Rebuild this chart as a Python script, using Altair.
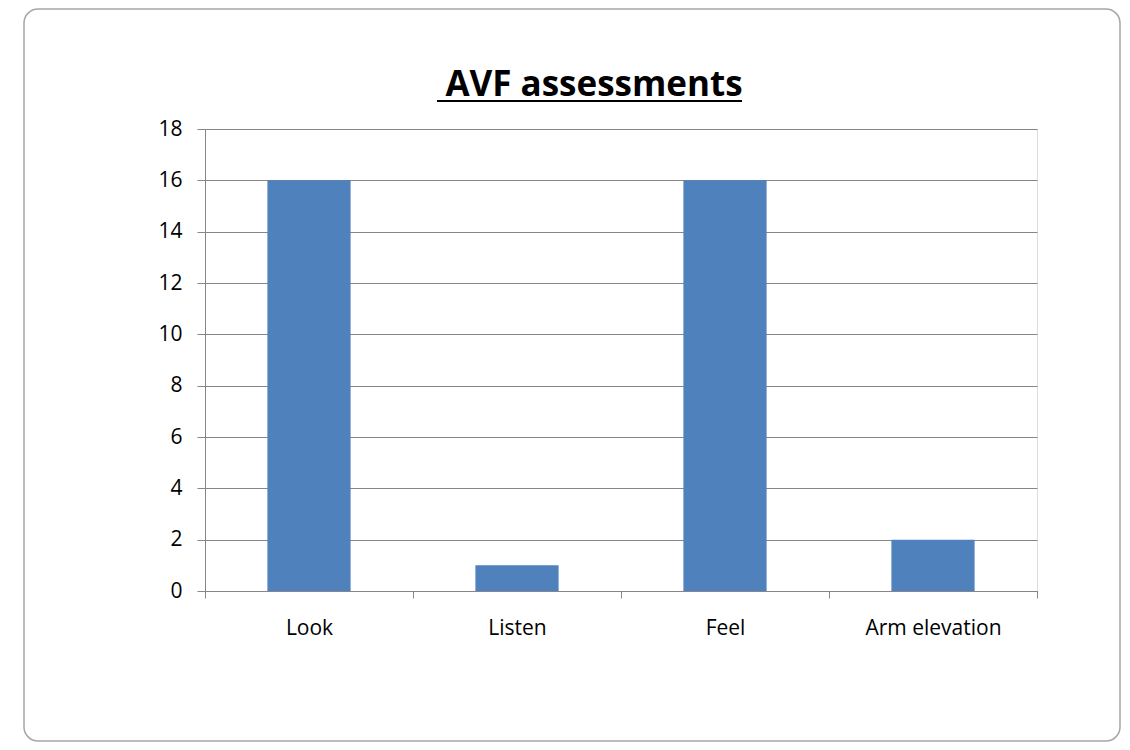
import altair as alt
import pandas as pd

categories = ["Look", "Listen", "Feel", "Arm elevation"]
values = [16, 1, 16, 2]
y_ticks = [0, 2, 4, 6, 8, 10, 12, 14, 16, 18]
title_text = "AVF assessments"

df = pd.DataFrame({"category": categories, "value": values})

W, H = 832, 462
GRID = "#868686"
FONT = "Open Sans"

x = alt.X(
    "category:N", sort=categories, title=None,
    scale=alt.Scale(paddingInner=0, paddingOuter=0),
    axis=alt.Axis(tickBand="extent", labelAngle=0, domainColor=GRID, tickColor=GRID,
                  tickSize=7, labelFont=FONT, labelFontSize=21, labelColor="#000000",
                  labelPadding=19, grid=False),
)
y = alt.Y(
    "value:Q", title=None,
    scale=alt.Scale(domain=[0, 18], nice=False),
    axis=alt.Axis(values=y_ticks, grid=True, gridColor=GRID, domainColor=GRID,
                  tickColor=GRID, tickSize=8, labelFont=FONT, labelFontSize=21,
                  labelColor="#000000", labelPadding=15),
)

one = pd.DataFrame({"t": [title_text]})

frame = alt.Chart(one).mark_rect(
    fillOpacity=0, stroke="#a6a6a6", strokeWidth=1.5, cornerRadius=14
).encode(x=alt.value(-181), x2=alt.value(W + 83), y=alt.value(-120), y2=alt.value(H + 150))

bars = alt.Chart(df).mark_bar(width=alt.RelativeBandSize(0.4), color="#4F81BD").encode(x=x, y=y)

title = alt.Chart(one).mark_text(
    font=FONT, fontSize=35, fontWeight="bold", color="#000000", align="center", baseline="alphabetic"
).encode(text="t:N", x=alt.value(389), y=alt.value(-33))

underline = alt.Chart(one).mark_rule(color="#000000", strokeWidth=2).encode(
    x=alt.value(232), x2=alt.value(537), y=alt.value(-28)
)

chart = alt.layer(bars, frame, title, underline).properties(
    width=W, height=H,
    autosize=alt.AutoSizeParams(type="none"),
    padding={"left": 197, "top": 121, "right": 85, "bottom": 151},
).configure_view(stroke=None).configure(background="white")

chart.save("out.html", embed_options={"renderer": "svg", "actions": False})
